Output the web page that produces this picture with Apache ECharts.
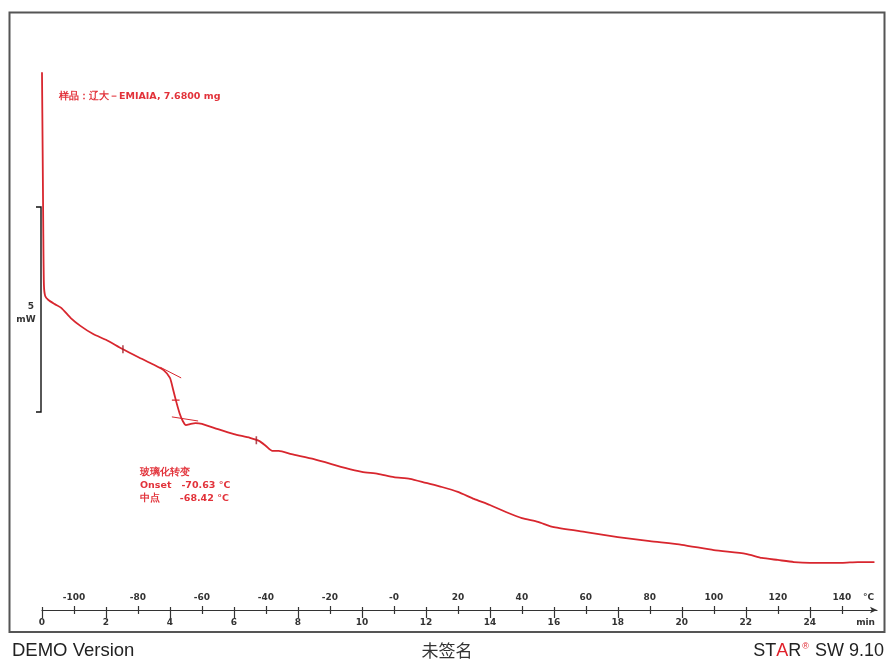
<!DOCTYPE html>
<html>
<head>
<meta charset="utf-8">
<script src="https://cdn.jsdelivr.net/npm/echarts@6/dist/echarts.min.js"></script>
<style>html,body{margin:0;padding:0;background:#fff;}#c{width:887px;height:662px;}</style>
</head>
<body>
<div id="c"></div>
<script>
// time (min) and heat flow (mW, arbitrary zero)
const timeMin = [0,0.02,0.04,0.06,0.10,0.2,0.4,0.6,0.9,1.2,1.6,2.0,2.5,3.0,3.5,3.8,4.0,4.1,4.2,4.3,4.4,4.5,4.65,4.8,5.0,5.5,6.0,6.5,6.8,7.0,7.2,7.4,7.8,8.5,9.5,10.0,10.5,11.0,11.5,12.0,12.5,13.0,13.5,14.0,14.5,15.0,15.5,16.0,17.0,18.0,19.0,20.0,21.0,22.0,22.5,23.0,23.5,24.0,25.0,25.5,26.0];
const heatFlow = [13.10,11.22,9.27,7.93,7.66,7.56,7.46,7.37,7.12,6.93,6.73,6.59,6.37,6.17,5.98,5.85,5.66,5.37,5.07,4.80,4.61,4.51,4.54,4.56,4.54,4.41,4.29,4.20,4.12,4.00,3.88,3.88,3.80,3.68,3.46,3.37,3.32,3.24,3.20,3.10,3.00,2.88,2.71,2.56,2.39,2.24,2.15,2.02,1.90,1.78,1.68,1.59,1.46,1.37,1.27,1.22,1.17,1.15,1.15,1.17,1.17];
// integration limit marks [min, mW]
const limitMarks = [[2.53, 6.36], [6.7, 4.14]];
// evaluation tangents [[t0,v0],[t1,v1]]
const tangentPre = [[3.7, 5.92], [4.35, 5.66]];
const tangentPost = [[4.06, 4.71], [4.88, 4.61]];
const midMark = [[4.06, 5.12], [4.30, 5.12]];
// axis ticks
const timeTicks = [0,2,4,6,8,10,12,14,16,18,20,22,24];
const tempTicks = [-100,-80,-60,-40,-20,0,20,40,60,80,100,120,140];
const tempStart = -110;   // °C at t = 0
const heatingRate = 10;   // K/min
const timeMax = 26.1;
const yMax = 14.585;
// scale bar (mW)
const scaleBarBase = 4.83;
const scaleBarSpan = 5;
// texts
const sampleText = '样品：辽大－EMIAIA, 7.6800 mg';
const evalTitle = '玻璃化转变';
const onsetText = 'Onset   -70.63 °C';
const midText = '中点      -68.42 °C';

const red = '#d8262e';
const txtRed = '#e2323a';
const dark = '#333';
const lblFont = {fontFamily: 'DejaVu Sans', fontWeight: 'bold', fontSize: 9, color: dark};

const chart = echarts.init(document.getElementById('c'), null, {renderer: 'canvas'});

const curve = timeMin.map((t, i) => [t, heatFlow[i]]);
const segStyle = {color: red, width: 1};

chart.setOption({
  animation: false,
  backgroundColor: '#fff',
  grid: {left: 42, right: 887 - 42 - Math.round(timeMax * 32), top: 12, bottom: 52},
  xAxis: [
    {type: 'value', min: 0, max: timeMax, position: 'bottom',
      axisLine: {show: true, lineStyle: {color: dark, width: 1.2}, symbol: ['none', 'arrow'], symbolSize: [5, 7]},
      axisTick: {show: true, length: 8, customValues: timeTicks, lineStyle: {color: dark, width: 1.2}},
      axisLabel: Object.assign({customValues: timeTicks, margin: 8}, lblFont),
      splitLine: {show: false}},
    {type: 'value', min: 0, max: timeMax, position: 'bottom',
      axisLine: {show: false},
      axisTick: {show: true, inside: true, length: 3, customValues: timeTicks, lineStyle: {color: dark, width: 1.2}},
      axisLabel: {show: false}, splitLine: {show: false}},
    {type: 'value', min: tempStart, max: tempStart + heatingRate * timeMax, position: 'bottom',
      axisLine: {show: false},
      axisTick: {show: true, inside: true, length: 4, customValues: tempTicks, lineStyle: {color: dark, width: 1.2}},
      axisLabel: Object.assign({inside: true, margin: 8, customValues: tempTicks,
        formatter: v => (v === 0 ? '-0' : String(v))}, lblFont),
      splitLine: {show: false}},
    {type: 'value', min: tempStart, max: tempStart + heatingRate * timeMax, position: 'bottom',
      axisLine: {show: false},
      axisTick: {show: true, length: 4, customValues: tempTicks, lineStyle: {color: dark, width: 1.2}},
      axisLabel: {show: false}, splitLine: {show: false}}
  ],
  yAxis: {type: 'value', min: 0, max: yMax, show: false, splitLine: {show: false}},
  series: [
    {type: 'line', data: curve, showSymbol: false, smooth: 0.2,
      lineStyle: {color: red, width: 1.8, cap: 'round', join: 'round'}, z: 5},
    {type: 'line', data: tangentPre, showSymbol: false, lineStyle: segStyle, z: 4},
    {type: 'line', data: tangentPost, showSymbol: false, lineStyle: segStyle, z: 4},
    {type: 'line', data: midMark, showSymbol: false, lineStyle: {color: red, width: 1.2}, z: 4},
    {type: 'scatter', data: limitMarks, symbol: 'rect', symbolSize: [1.6, 8],
      itemStyle: {color: '#a0202a'}, z: 6}
  ]
});

const px = (t, v) => chart.convertToPixel({xAxisIndex: 0, yAxisIndex: 0}, [t, v]);
const top5 = px(0, scaleBarBase + scaleBarSpan);
const bot5 = px(0, scaleBarBase);
const sbX = top5[0] - 1;
const axisEnd = px(timeMax, 0);
const midY = (top5[1] + bot5[1]) / 2;
const annFont = 'bold 9.5px "DejaVu Sans"';

chart.setOption({
  graphic: [
    {type: 'rect', shape: {x: 9.5, y: 12.5, width: 875, height: 619.5},
      style: {fill: 'none', stroke: '#555', lineWidth: 2}, silent: true},
    {type: 'polyline', shape: {points: [[sbX - 5, top5[1]], [sbX, top5[1]], [sbX, bot5[1]], [sbX - 5, bot5[1]]]},
      style: {stroke: '#111', lineWidth: 1.4, fill: 'none'}},
    {type: 'text', x: 31, y: midY - 3, style: {text: '5', font: 'bold 9px "DejaVu Sans"', fill: dark, align: 'center', verticalAlign: 'middle'}},
    {type: 'text', x: 26, y: midY + 10, style: {text: 'mW', font: 'bold 9px "DejaVu Sans"', fill: dark, align: 'center', verticalAlign: 'middle'}},
    {type: 'text', x: 59, y: 97, style: {text: sampleText, font: annFont, fill: txtRed, verticalAlign: 'middle'}},
    {type: 'text', x: 140, y: 466, style: {text: [evalTitle, onsetText, midText].join('\n'), font: annFont, lineHeight: 13, fill: txtRed, verticalAlign: 'top'}},
    {type: 'text', x: axisEnd[0] - 3, y: 598, style: {text: '°C', font: 'bold 9px "DejaVu Sans"', fill: dark, align: 'right', verticalAlign: 'middle'}},
    {type: 'text', x: axisEnd[0] - 2, y: 623, style: {text: 'min', font: 'bold 9px "DejaVu Sans"', fill: dark, align: 'right', verticalAlign: 'middle'}},
    {type: 'text', x: 12, y: 651, style: {text: 'DEMO Version', font: '18.5px "Liberation Sans"', fill: '#222', verticalAlign: 'middle'}},
    {type: 'text', x: 447, y: 651, style: {text: '未签名', font: '17px "Noto Sans CJK SC"', fill: '#333', align: 'center', verticalAlign: 'middle'}},
    {type: 'text', x: 884, y: 651, style: {
      text: '{d|ST}{r|A}{d|R}{s|®}{d| SW 9.10}', align: 'right', verticalAlign: 'middle',
      rich: {
        d: {font: '18px "Liberation Sans"', fill: '#222'},
        r: {font: '18px "Liberation Sans"', fill: '#e0202a'},
        s: {font: '9px "Liberation Sans"', fill: '#e0202a', verticalAlign: 'top', padding: [0, 1, 8, 1]}
      }}}
  ]
});
</script>
</body>
</html>
